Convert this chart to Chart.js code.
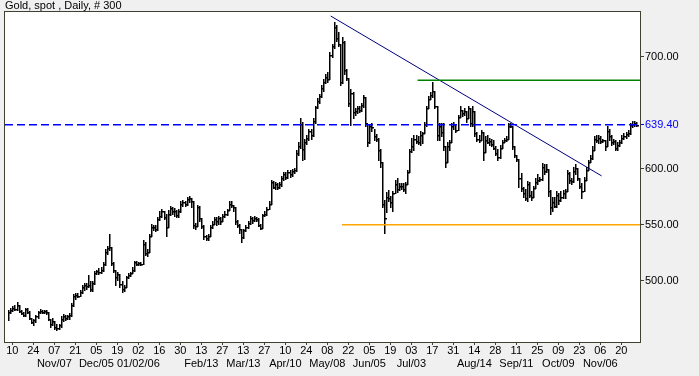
<!DOCTYPE html>
<html>
<head>
<meta charset="utf-8">
<title>Gold, spot, Daily</title>
<script src="https://cdn.jsdelivr.net/npm/chart.js@4.4.1/dist/chart.umd.min.js"></script>
<style>
  html, body { margin: 0; padding: 0; background: #f0f0f0; }
  #wrap { width: 699px; height: 376px; position: relative; }
</style>
</head>
<body>
<div id="wrap"><canvas id="chart-gold"></canvas></div>
<script>
// Daily bars, oldest first (300 bars, Oct 2005 -> Dec 2006)
const highs = [
  474,476,477,478,481,478,474,472,476,476, 473,467,466,469,473,475,474,474,474,472,
  466,467,464,461,461,468,470,469,469,471, 480,488,489,489,492,496,498,498,505,500,
  500,509,510,511,512,517,528,531,542,530, 517,510,508,506,500,496,504,507,508,512,
  518,518,517,517,536,535,528,542,551,550, 550,557,562,564,562,560,563,567,566,565,
  563,564,571,572,571,575,576,574,571,552, 568,567,556,550,541,542,550,553,557,557,
  558,557,560,562,564,571,571,568,566,554, 551,546,546,550,553,558,557,558,557,556,
  551,560,562,566,571,590,589,588,587,588, 594,597,597,599,599,600,601,617,624,645,
  642,627,630,636,636,645,656,663,667,675, 680,685,687,704,712,731,729,722,712,718,
  714,689,681,671,669,654,656,656,659,666, 664,640,640,641,636,631,628,618,606,572,
  579,581,576,580,590,592,587,587,587,588, 599,618,628,630,630,629,634,633,642,656,
  665,669,678,670,656,641,641,641,620,624, 626,641,642,640,648,656,653,654,652,656,
  654,656,652,633,630,635,633,629,630,628, 627,626,620,618,621,626,628,629,641,641,
  638,620,612,609,596,584,582,589,588,580, 585,592,595,593,605,604,604,600,581,575,
  575,580,578,580,581,582,599,597,592,602, 604,601,592,587,593,602,608,612,620,629,
  630,630,629,627,626,638,636,630,627,626, 624,626,630,632,633,635,641,643,643,642
];
const lows = [
  465,471,473,474,474,472,470,468,468,471, 466,462,460,463,467,471,471,471,470,465,
  459,460,457,456,457,459,464,465,466,466, 468,477,484,485,486,489,492,493,494,491,
  491,497,506,506,507,509,514,524,527,514, 508,496,501,494,490,491,494,502,504,507,
  509,514,514,514,515,523,522,526,540,545, 544,545,554,557,555,540,548,559,560,558,
  557,557,561,567,567,568,570,566,547,546, 549,553,547,537,536,536,540,547,551,550,
  551,551,553,557,559,563,566,562,551,548, 543,535,538,544,547,551,552,553,553,549,
  546,547,558,559,564,569,583,582,582,583, 585,590,591,592,593,594,596,598,612,619,
  608,609,622,626,627,629,641,654,659,664, 670,677,678,680,700,708,714,710,675,677,
  685,679,656,639,645,648,650,651,652,655, 638,620,623,634,626,625,608,602,566,543,
  561,571,566,562,578,579,581,582,580,578, 586,597,615,617,623,622,621,623,632,638,
  654,662,664,654,626,626,629,617,602,606, 617,624,636,633,635,646,647,648,642,645,
  638,638,629,625,624,626,608,615,623,621, 620,618,612,608,610,619,624,625,627,637,
  618,611,607,584,580,575,572,571,575,572, 575,583,586,589,590,595,597,576,560,562,
  566,566,569,571,574,574,580,587,586,588, 595,590,583,574,580,590,599,606,609,617,
  624,623,623,624,617,620,626,621,622,617, 617,620,623,627,628,629,631,637,638,638
];
const closes = [
  472,474,476,475,478,473,471,469,475,472, 467,463,465,468,472,473,472,473,472,466,
  461,464,459,458,460,466,468,467,468,469, 478,486,487,486,490,494,496,495,496,493,
  498,507,509,508,510,515,526,529,530,516, 510,503,506,497,493,494,503,505,507,510,
  517,515,516,515,533,525,526,540,548,548, 546,555,558,562,557,548,560,565,562,562,
  559,562,569,570,569,573,574,571,550,549, 566,556,549,540,538,540,548,551,555,553,
  556,553,558,560,563,569,568,566,553,550, 546,539,545,548,552,556,554,556,555,550,
  547,559,560,564,569,588,584,586,584,586, 592,595,593,597,595,598,599,614,620,640,
  618,624,628,634,630,643,655,661,665,672, 678,682,680,702,710,727,717,712,678,713,
  688,681,659,668,651,652,654,653,657,664, 641,624,638,637,629,627,617,606,569,556,
  575,574,570,578,586,582,585,585,582,586, 597,616,620,627,625,624,630,632,640,654,
  662,666,670,656,630,638,633,620,606,620, 624,638,640,635,646,653,650,652,645,654,
  641,652,632,627,626,633,615,626,624,625, 622,619,614,611,619,624,626,627,638,638,
  620,612,609,592,583,578,574,586,577,575, 583,588,590,591,602,598,600,580,566,570,
  567,577,572,575,578,580,596,590,589,598, 601,592,585,580,590,599,606,610,617,627,
  626,628,625,626,620,634,629,624,625,619, 621,624,628,629,631,632,639,640,641,639.4
];

// x axis: a tick every 10 bars, day on first row, month where it starts
const tickBars = [2,12,22,32,42,52,62,72,82,92,102,112,122,132,142,152,162,172,182,192,202,212,222,232,242,252,262,272,282,292];
const tickDays = ['10','24','07','21','05','19','02','16','30','13','27','13','27','10','24','08','22','05','19','03','17','31','14','28','11','25','09','23','06','20'];
const tickMonths = ['','','Nov/07','','Dec/05','','01/02/06','','','Feb/13','','Mar/13','','Apr/10','','May/08','','Jun/05','','Jul/03','','','Aug/14','','Sep/11','','Oct/09','','Nov/06',''];

const priceTicks = [500, 550, 600, 639.4, 700];
const lastClose = 639.4;

// drawn studies (bar index, price)
const trendLine = [{ x: 153.6, y: 736.6 }, { x: 282.6, y: 593.7 }];
const resistance = [{ x: 195, y: 679.2 }, { x: 300.9, y: 679.2 }];
const support = [{ x: 159, y: 550 }, { x: 300.9, y: 550 }];
const lastLine = [{ x: -1.5, y: lastClose }, { x: 300.9, y: lastClose }];

const FONT = 'Liberation Sans, Arial, sans-serif';
const FRAME = '#404030';

// background + frame around the plot
const framePlugin = {
  id: 'frame',
  beforeDraw(chart) {
    const { ctx, chartArea: a } = chart;
    ctx.save();
    ctx.fillStyle = '#f0f0f0';
    ctx.fillRect(0, 0, chart.width, chart.height);
    ctx.fillStyle = '#ffffff';
    ctx.fillRect(a.left, a.top, a.right - a.left, a.bottom - a.top);
    ctx.restore();
  },
  afterDraw(chart) {
    const { ctx, chartArea: a } = chart;
    ctx.save();
    ctx.strokeStyle = FRAME;
    ctx.lineWidth = 1;
    ctx.strokeRect(a.left - 0.5, a.top - 0.5, a.right - a.left + 1, a.bottom - a.top + 1);
    ctx.restore();
  }
};

// HLC bars: high-low stroke plus close tick, placed with the chart scales
const barsPlugin = {
  id: 'hlcBars',
  beforeDatasetsDraw(chart) {
    const { ctx, chartArea: a, scales: { x, y } } = chart;
    ctx.save();
    ctx.beginPath();
    ctx.rect(a.left, a.top, a.right - a.left, a.bottom - a.top);
    ctx.clip();
    ctx.fillStyle = '#000';
    closes.forEach((c, i) => {
      const px = Math.round(x.getPixelForValue(i));
      const top = Math.round(y.getPixelForValue(highs[i]));
      const bot = Math.round(y.getPixelForValue(lows[i]));
      const yc = Math.round(y.getPixelForValue(c));
      ctx.fillRect(px, top, 1.5, bot - top + 1);
      ctx.fillRect(px + 1, yc, 2, 1.5);
    });
    ctx.restore();
  }
};

const lineSet = (data, color, width, dash) => ({
  type: 'line', data, borderColor: color, borderWidth: width, borderDash: dash || [],
  pointRadius: 0, fill: false, tension: 0
});

new Chart(document.getElementById('chart-gold'), {
  type: 'line',
  data: {
    datasets: [
      lineSet(lastLine, '#0000ff', 1.5, [8, 4]),
      lineSet(support, '#ffa500', 1.5),
      lineSet(resistance, '#008000', 1.5),
      lineSet(trendLine, '#000080', 1)
    ]
  },
  options: {
    responsive: true,
    maintainAspectRatio: false,
    animation: false,
    events: [],
    layout: { padding: { left: 5, top: 0, right: 0, bottom: 0 } },
    plugins: {
      legend: { display: false },
      tooltip: { enabled: false },
      title: {
        display: true, text: 'Gold, spot , Daily, # 300', align: 'start', color: '#000',
        font: { family: FONT, size: 11, weight: 'normal', lineHeight: '12px' },
        padding: { top: 0, bottom: 0 }
      }
    },
    scales: {
      x: {
        type: 'linear', min: -1.5, max: 300.9, offset: false,
        afterBuildTicks: s => { s.ticks = tickBars.map(v => ({ value: v })); },
        afterFit: s => { s.height = 34; },
        ticks: {
          autoSkip: false, maxRotation: 0, color: '#000', padding: -1,
          font: { family: FONT, size: 11, lineHeight: '13px' },
          callback: (v, i) => tickMonths[i] ? [tickDays[i], tickMonths[i]] : tickDays[i]
        },
        grid: { drawOnChartArea: false, drawTicks: true, tickLength: 3, color: FRAME, offset: false },
        border: { display: false }
      },
      y: {
        type: 'linear', position: 'right', min: 445.2, max: 740.2,
        afterBuildTicks: s => { s.ticks = priceTicks.map(v => ({ value: v })); },
        afterFit: s => { s.width = 59; },
        ticks: {
          padding: 1,
          font: { family: FONT, size: 11 },
          color: c => c.tick && c.tick.value === lastClose ? '#0000ff' : '#000',
          callback: v => v.toFixed(2)
        },
        grid: {
          drawOnChartArea: false, drawTicks: true, tickLength: 4,
          color: c => c.tick && c.tick.value === lastClose ? '#0000ff' : FRAME
        },
        border: { display: false }
      }
    }
  },
  plugins: [framePlugin, barsPlugin]
});
</script>
</body>
</html>
